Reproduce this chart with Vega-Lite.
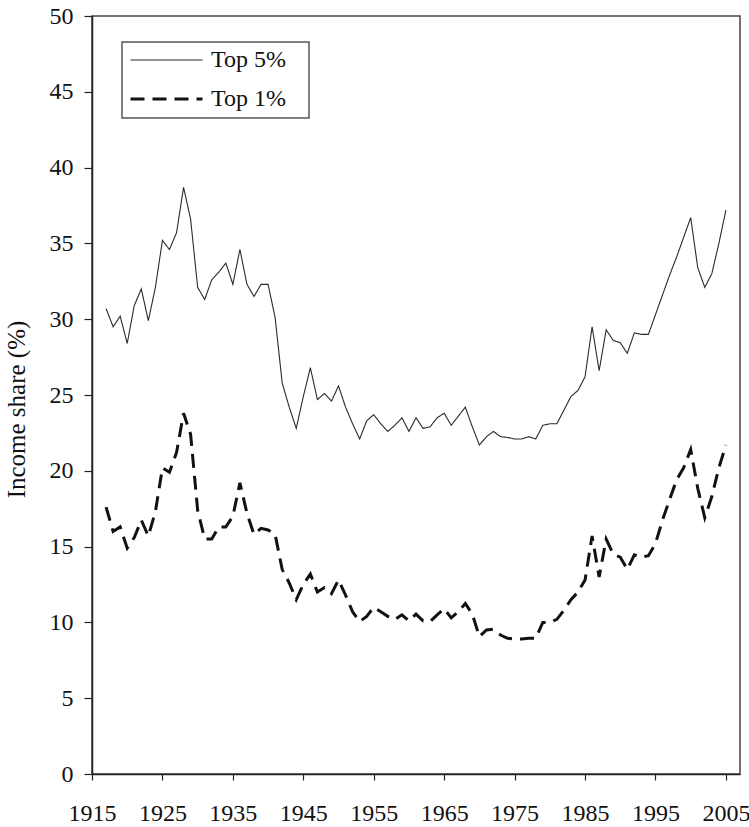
{
  "$schema": "https://vega.github.io/schema/vega-lite/v6.json",
  "width": 648,
  "height": 758,
  "autosize": {"type": "none"},
  "padding": {"left": 92, "top": 16, "right": 9, "bottom": 53},
  "background": "white",
  "config": {
    "view": {"stroke": "#444", "strokeWidth": 1.5},
    "font": "'Liberation Serif', 'Times New Roman', Times, serif",
    "axis": {
      "grid": false,
      "domainColor": "#222",
      "domainWidth": 1.5,
      "tickColor": "#222",
      "tickWidth": 1.2,
      "labelFont": "'Liberation Serif', 'Times New Roman', Times, serif",
      "labelFontSize": 24,
      "labelColor": "#111",
      "titleFont": "'Liberation Serif', 'Times New Roman', Times, serif",
      "titleFontSize": 25,
      "titleFontWeight": "normal",
      "titleColor": "#111"
    },
    "legend": {
      "orient": "none",
      "legendX": 30,
      "legendY": 26,
      "direction": "vertical",
      "padding": 7,
      "strokeColor": "#555",
      "strokeWidth": 1.5,
      "fillColor": "white",
      "symbolType": "stroke",
      "symbolSize": 5184,
      "labelFont": "'Liberation Serif', 'Times New Roman', Times, serif",
      "labelFontSize": 24,
      "labelColor": "#111",
      "labelOffset": 7,
      "clipHeight": 22,
      "rowPadding": 15,
      "labelLimit": 300
    }
  },
  "data": {
    "values": [
      {"year":1917,"series":"Top 5%","share":30.7},{"year":1918,"series":"Top 5%","share":29.5},{"year":1919,"series":"Top 5%","share":30.2},{"year":1920,"series":"Top 5%","share":28.4},{"year":1921,"series":"Top 5%","share":30.9},{"year":1922,"series":"Top 5%","share":32.0},{"year":1923,"series":"Top 5%","share":29.9},{"year":1924,"series":"Top 5%","share":32.1},{"year":1925,"series":"Top 5%","share":35.2},{"year":1926,"series":"Top 5%","share":34.6},{"year":1927,"series":"Top 5%","share":35.7},{"year":1928,"series":"Top 5%","share":38.7},{"year":1929,"series":"Top 5%","share":36.6},{"year":1930,"series":"Top 5%","share":32.1},{"year":1931,"series":"Top 5%","share":31.3},{"year":1932,"series":"Top 5%","share":32.6},{"year":1933,"series":"Top 5%","share":33.1},{"year":1934,"series":"Top 5%","share":33.7},{"year":1935,"series":"Top 5%","share":32.3},{"year":1936,"series":"Top 5%","share":34.6},{"year":1937,"series":"Top 5%","share":32.3},{"year":1938,"series":"Top 5%","share":31.5},{"year":1939,"series":"Top 5%","share":32.3},{"year":1940,"series":"Top 5%","share":32.3},{"year":1941,"series":"Top 5%","share":30.1},{"year":1942,"series":"Top 5%","share":25.8},{"year":1943,"series":"Top 5%","share":24.2},{"year":1944,"series":"Top 5%","share":22.8},{"year":1945,"series":"Top 5%","share":24.9},{"year":1946,"series":"Top 5%","share":26.8},{"year":1947,"series":"Top 5%","share":24.7},{"year":1948,"series":"Top 5%","share":25.1},{"year":1949,"series":"Top 5%","share":24.6},{"year":1950,"series":"Top 5%","share":25.6},{"year":1951,"series":"Top 5%","share":24.2},{"year":1952,"series":"Top 5%","share":23.1},{"year":1953,"series":"Top 5%","share":22.1},{"year":1954,"series":"Top 5%","share":23.3},{"year":1955,"series":"Top 5%","share":23.7},{"year":1956,"series":"Top 5%","share":23.1},{"year":1957,"series":"Top 5%","share":22.6},{"year":1958,"series":"Top 5%","share":23.0},{"year":1959,"series":"Top 5%","share":23.5},{"year":1960,"series":"Top 5%","share":22.6},{"year":1961,"series":"Top 5%","share":23.5},{"year":1962,"series":"Top 5%","share":22.8},{"year":1963,"series":"Top 5%","share":22.9},{"year":1964,"series":"Top 5%","share":23.5},{"year":1965,"series":"Top 5%","share":23.8},{"year":1966,"series":"Top 5%","share":23.0},{"year":1967,"series":"Top 5%","share":23.6},{"year":1968,"series":"Top 5%","share":24.2},{"year":1969,"series":"Top 5%","share":22.9},{"year":1970,"series":"Top 5%","share":21.7},{"year":1971,"series":"Top 5%","share":22.25},{"year":1972,"series":"Top 5%","share":22.6},{"year":1973,"series":"Top 5%","share":22.25},{"year":1974,"series":"Top 5%","share":22.2},{"year":1975,"series":"Top 5%","share":22.1},{"year":1976,"series":"Top 5%","share":22.1},{"year":1977,"series":"Top 5%","share":22.25},{"year":1978,"series":"Top 5%","share":22.1},{"year":1979,"series":"Top 5%","share":23.0},{"year":1980,"series":"Top 5%","share":23.1},{"year":1981,"series":"Top 5%","share":23.1},{"year":1982,"series":"Top 5%","share":24.0},{"year":1983,"series":"Top 5%","share":24.9},{"year":1984,"series":"Top 5%","share":25.3},{"year":1985,"series":"Top 5%","share":26.2},{"year":1986,"series":"Top 5%","share":29.5},{"year":1987,"series":"Top 5%","share":26.6},{"year":1988,"series":"Top 5%","share":29.3},{"year":1989,"series":"Top 5%","share":28.6},{"year":1990,"series":"Top 5%","share":28.45},{"year":1991,"series":"Top 5%","share":27.75},{"year":1992,"series":"Top 5%","share":29.1},{"year":1993,"series":"Top 5%","share":29.0},{"year":1994,"series":"Top 5%","share":29.0},{"year":1995,"series":"Top 5%","share":30.3},{"year":1996,"series":"Top 5%","share":31.6},{"year":1997,"series":"Top 5%","share":32.9},{"year":1998,"series":"Top 5%","share":34.1},{"year":1999,"series":"Top 5%","share":35.4},{"year":2000,"series":"Top 5%","share":36.7},{"year":2001,"series":"Top 5%","share":33.4},{"year":2002,"series":"Top 5%","share":32.1},{"year":2003,"series":"Top 5%","share":33.0},{"year":2004,"series":"Top 5%","share":35.0},{"year":2005,"series":"Top 5%","share":37.2},
      {"year":1917,"series":"Top 1%","share":17.6},{"year":1918,"series":"Top 1%","share":16.0},{"year":1919,"series":"Top 1%","share":16.3},{"year":1920,"series":"Top 1%","share":14.9},{"year":1921,"series":"Top 1%","share":15.6},{"year":1922,"series":"Top 1%","share":16.75},{"year":1923,"series":"Top 1%","share":15.7},{"year":1924,"series":"Top 1%","share":17.3},{"year":1925,"series":"Top 1%","share":20.2},{"year":1926,"series":"Top 1%","share":19.9},{"year":1927,"series":"Top 1%","share":21.2},{"year":1928,"series":"Top 1%","share":23.8},{"year":1929,"series":"Top 1%","share":22.4},{"year":1930,"series":"Top 1%","share":17.4},{"year":1931,"series":"Top 1%","share":15.5},{"year":1932,"series":"Top 1%","share":15.5},{"year":1933,"series":"Top 1%","share":16.3},{"year":1934,"series":"Top 1%","share":16.3},{"year":1935,"series":"Top 1%","share":17.0},{"year":1936,"series":"Top 1%","share":19.2},{"year":1937,"series":"Top 1%","share":17.2},{"year":1938,"series":"Top 1%","share":15.8},{"year":1939,"series":"Top 1%","share":16.2},{"year":1940,"series":"Top 1%","share":16.1},{"year":1941,"series":"Top 1%","share":15.8},{"year":1942,"series":"Top 1%","share":13.5},{"year":1943,"series":"Top 1%","share":12.6},{"year":1944,"series":"Top 1%","share":11.5},{"year":1945,"series":"Top 1%","share":12.5},{"year":1946,"series":"Top 1%","share":13.2},{"year":1947,"series":"Top 1%","share":12.0},{"year":1948,"series":"Top 1%","share":12.3},{"year":1949,"series":"Top 1%","share":11.9},{"year":1950,"series":"Top 1%","share":12.8},{"year":1951,"series":"Top 1%","share":11.8},{"year":1952,"series":"Top 1%","share":10.7},{"year":1953,"series":"Top 1%","share":10.05},{"year":1954,"series":"Top 1%","share":10.4},{"year":1955,"series":"Top 1%","share":11.0},{"year":1956,"series":"Top 1%","share":10.7},{"year":1957,"series":"Top 1%","share":10.4},{"year":1958,"series":"Top 1%","share":10.2},{"year":1959,"series":"Top 1%","share":10.5},{"year":1960,"series":"Top 1%","share":10.1},{"year":1961,"series":"Top 1%","share":10.55},{"year":1962,"series":"Top 1%","share":10.1},{"year":1963,"series":"Top 1%","share":10.05},{"year":1964,"series":"Top 1%","share":10.5},{"year":1965,"series":"Top 1%","share":10.9},{"year":1966,"series":"Top 1%","share":10.3},{"year":1967,"series":"Top 1%","share":10.7},{"year":1968,"series":"Top 1%","share":11.25},{"year":1969,"series":"Top 1%","share":10.55},{"year":1970,"series":"Top 1%","share":9.06},{"year":1971,"series":"Top 1%","share":9.5},{"year":1972,"series":"Top 1%","share":9.55},{"year":1973,"series":"Top 1%","share":9.17},{"year":1974,"series":"Top 1%","share":8.95},{"year":1975,"series":"Top 1%","share":8.9},{"year":1976,"series":"Top 1%","share":8.9},{"year":1977,"series":"Top 1%","share":8.95},{"year":1978,"series":"Top 1%","share":8.95},{"year":1979,"series":"Top 1%","share":10.0},{"year":1980,"series":"Top 1%","share":10.0},{"year":1981,"series":"Top 1%","share":10.2},{"year":1982,"series":"Top 1%","share":10.8},{"year":1983,"series":"Top 1%","share":11.5},{"year":1984,"series":"Top 1%","share":12.0},{"year":1985,"series":"Top 1%","share":12.8},{"year":1986,"series":"Top 1%","share":15.7},{"year":1987,"series":"Top 1%","share":13.0},{"year":1988,"series":"Top 1%","share":15.5},{"year":1989,"series":"Top 1%","share":14.5},{"year":1990,"series":"Top 1%","share":14.3},{"year":1991,"series":"Top 1%","share":13.5},{"year":1992,"series":"Top 1%","share":14.45},{"year":1993,"series":"Top 1%","share":14.3},{"year":1994,"series":"Top 1%","share":14.4},{"year":1995,"series":"Top 1%","share":15.2},{"year":1996,"series":"Top 1%","share":16.75},{"year":1997,"series":"Top 1%","share":18.1},{"year":1998,"series":"Top 1%","share":19.4},{"year":1999,"series":"Top 1%","share":20.2},{"year":2000,"series":"Top 1%","share":21.4},{"year":2001,"series":"Top 1%","share":18.85},{"year":2002,"series":"Top 1%","share":16.9},{"year":2003,"series":"Top 1%","share":18.3},{"year":2004,"series":"Top 1%","share":20.2},{"year":2005,"series":"Top 1%","share":21.7}
    ]
  },
  "mark": {"type": "line", "strokeCap": "butt", "strokeJoin": "miter", "clip": true},
  "encoding": {
    "x": {
      "field": "year",
      "type": "quantitative",
      "scale": {"domain": [1915, 2007], "nice": false, "zero": false},
      "axis": {
        "values": [1915, 1925, 1935, 1945, 1955, 1965, 1975, 1985, 1995, 2005],
        "format": "d",
        "tickSize": 6,
        "labelPadding": 21,
        "labelDx": -3,
        "labelFlush": false,
        "labelOverlap": false,
        "title": null
      }
    },
    "y": {
      "field": "share",
      "type": "quantitative",
      "scale": {"domain": [0, 50], "nice": false},
      "axis": {
        "values": [0, 5, 10, 15, 20, 25, 30, 35, 40, 45, 50],
        "tickSize": 8,
        "labelPadding": 11,
        "labelFlush": false,
        "labelOverlap": false,
        "title": "Income share (%)",
        "titleX": -68,
        "titleY": 393,
        "titleBaseline": "alphabetic",
        "titleAngle": -90
      }
    },
    "color": {
      "field": "series",
      "type": "nominal",
      "scale": {"domain": ["Top 5%", "Top 1%"], "range": ["#2a2a2a", "#111111"]},
      "legend": {"title": null, "labelExpr": "datum.label + '\u2002\u2006\u200b'"}
    },
    "strokeDash": {
      "field": "series",
      "type": "nominal",
      "scale": {"domain": ["Top 5%", "Top 1%"], "range": [[1, 0], [14, 8]]},
      "legend": {"title": null, "labelExpr": "datum.label + '\u2002\u2006\u200b'"}
    },
    "strokeWidth": {
      "field": "series",
      "type": "nominal",
      "scale": {"domain": ["Top 5%", "Top 1%"], "range": [1.1, 3]},
      "legend": {"title": null, "labelExpr": "datum.label + '\u2002\u2006\u200b'"}
    }
  }
}
